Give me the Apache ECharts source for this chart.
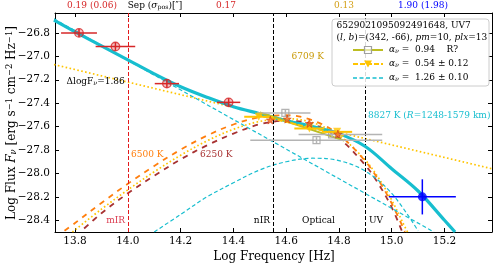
<!DOCTYPE html>
<html><head><meta charset="utf-8">
<script src="https://cdn.jsdelivr.net/npm/echarts@6/dist/echarts.min.js"></script>
<style>html,body{margin:0;padding:0;background:#fff}#c{width:498px;height:265px}</style>
</head><body><div id="c"></div><script>
// ---------- data ----------
const xTicks = [13.8, 14.0, 14.2, 14.4, 14.6, 14.8, 15.0, 15.2];
const yTicks = [-28.4, -28.2, -28.0, -27.8, -27.6, -27.4, -27.2, -27.0, -26.8];
const regionBounds = [14.0, 14.55, 14.9];

// red photometry (mIR/nIR)
const redFreq = [13.815, 13.953, 14.148, 14.382];
const redFlux = [-26.80, -26.916, -27.233, -27.393];
const redFreqErr = [0.068, 0.075, 0.046, 0.044];
const redFluxErr = [0.035, 0.035, 0.035, 0.035];
// blue UV point
const blueFreq = [15.116];
const blueFlux = [-28.20];
const blueFreqErr = [0.127];
const blueFluxErr = [0.15];
// gray squares
const grayFreq = [14.597, 14.715, 14.774];
const grayFlux = [-27.483, -27.716, -27.667];
const grayFreqLo = [14.490, 14.464, 14.647];
const grayFreqHi = [14.692, 14.964, 14.964];
const grayFluxErr = [0.025, 0.025, 0.025];
// gold triangles
const triFreq = [14.496, 14.688, 14.793];
const triFlux = [-27.516, -27.616, -27.645];
const triFreqErr = [0.055, 0.057, 0.057];
// orange stars
const starFreq = [14.540, 14.604, 14.688, 14.796];
const starFlux = [-27.544, -27.536, -27.573, -27.664];

// fit lines
const oliveFreq = [14.50, 14.82];
const oliveFlux = [-27.48, -27.72];
const goldFitFreq = [14.49, 14.82];
const goldFitFlux = [-27.50, -27.68];
const dottedPLFreq = [13.72, 15.38];
const dottedPLFlux = [-27.07, -27.96];
const cyanPLFreq = [13.72, 15.16];
const cyanPLFlux = [-26.68, -28.50];

// total model (thick cyan)
const totFreq = [13.72, 13.8, 13.9, 14.0, 14.1, 14.2, 14.3, 14.4, 14.5, 14.6, 14.7, 14.8, 14.9, 15.0, 15.1, 15.2, 15.24];
const totFlux = [-26.69, -26.79, -26.91, -27.03, -27.15, -27.26, -27.35, -27.43, -27.49, -27.55, -27.60, -27.66, -27.77, -27.96, -28.15, -28.40, -28.50];
// blackbody 8827 K (cyan dashed)
const bbCFreq = [14.10, 14.2, 14.3, 14.4, 14.5, 14.6, 14.7, 14.8, 14.9, 15.0, 15.1];
const bbCFlux = [-28.50, -28.35, -28.20, -28.08, -27.97, -27.90, -27.87, -27.89, -27.98, -28.17, -28.49];
// blackbody 6709 K (gold dotted)
const bbYFreq = [13.79, 13.9, 14.0, 14.1, 14.2, 14.3, 14.4, 14.5, 14.6, 14.7, 14.8, 14.9, 14.95, 15.0, 15.05, 15.06];
const bbYFlux = [-28.50, -28.305, -28.14, -27.986, -27.845, -27.722, -27.623, -27.556, -27.532, -27.566, -27.677, -27.887, -28.039, -28.228, -28.457, -28.50];
// blackbody 6500 K (orange dashed)
const bbOFreq = [13.76, 13.8, 13.9, 14.0, 14.1, 14.2, 14.3, 14.4, 14.5, 14.6, 14.7, 14.8, 14.9, 14.95, 15.0, 15.05];
const bbOFlux = [-28.49, -28.423, -28.252, -28.088, -27.936, -27.797, -27.677, -27.582, -27.520, -27.503, -27.546, -27.669, -27.896, -28.057, -28.256, -28.498];
// blackbody 6250 K (dark red dashed)
const bbRFreq = [13.82, 13.9, 14.0, 14.1, 14.2, 14.3, 14.4, 14.5, 14.6, 14.7, 14.8, 14.9, 14.95, 15.0, 15.04];
const bbRFlux = [-28.50, -28.34, -28.17, -28.02, -27.88, -27.76, -27.66, -27.58, -27.55, -27.58, -27.70, -27.93, -28.09, -28.29, -28.50];

// ---------- chart ----------
const FONT = 'DejaVu Serif';
const XMIN = 13.724, XMAX = 15.38, YMIN = -28.5, YMAX = -26.63;
const fmt = v => (Math.round(v * 10) / 10).toFixed(1).replace('-', '\u2212');
const zip = (a, b) => a.map((v, i) => [v, b[i]]);

function curve(fx, fy, color, width, type, z, smooth, offset) {
  return {type: 'line', data: zip(fx, fy), showSymbol: false, smooth: smooth ? 0.35 : false,
    lineStyle: {color, width, type, cap: 'butt', dashOffset: offset || 0}, z, silent: true, clip: true, animation: false};
}
function errBars(rows, color, width, z) {
  return {type: 'custom', z, silent: true, clip: true, animation: false,
    encode: {x: [0, 2, 3], y: [1, 4, 5]}, data: rows,
    renderItem: (params, api) => {
      const x = api.value(0), y = api.value(1);
      const a = api.coord([api.value(2), y]), b = api.coord([api.value(3), y]);
      const c = api.coord([x, api.value(4)]), d = api.coord([x, api.value(5)]);
      return {type: 'group', children: [
        {type: 'line', shape: {x1: a[0], y1: a[1], x2: b[0], y2: b[1]}, style: {stroke: color, lineWidth: width}},
        {type: 'line', shape: {x1: c[0], y1: c[1], x2: d[0], y2: d[1]}, style: {stroke: color, lineWidth: width}}
      ]};
    }};
}
const redRows = redFreq.map((f, i) => [f, redFlux[i], f - redFreqErr[i], f + redFreqErr[i], redFlux[i] - redFluxErr[i], redFlux[i] + redFluxErr[i]]);
const blueRows = blueFreq.map((f, i) => [f, blueFlux[i], f - blueFreqErr[i], f + blueFreqErr[i], blueFlux[i] - blueFluxErr[i], blueFlux[i] + blueFluxErr[i]]);
const grayRows = grayFreq.map((f, i) => [f, grayFlux[i], grayFreqLo[i], grayFreqHi[i], grayFlux[i] - grayFluxErr[i], grayFlux[i] + grayFluxErr[i]]);
const triRows = triFreq.map((f, i) => [f, triFlux[i], f - triFreqErr[i], f + triFreqErr[i], triFlux[i], triFlux[i]]);

const STAR = 'path://M50,0 L61,35 L98,35 L68,57 L79,91 L50,70 L21,91 L32,57 L2,35 L39,35 Z';
const CYAN = '#17becf', GOLD = '#ffc400', OLIVE = '#bcbd22', ORANGE = '#ff7f0e', DRED = '#a83232';

function axisX(pos, labels) {
  return {type: 'value', min: XMIN, max: XMAX, position: pos, axisLine: {onZero: false, lineStyle: {color: '#000', width: 1}},
    axisTick: {inside: true, length: 4, customValues: xTicks, lineStyle: {color: '#000'}},
    axisLabel: {show: labels, customValues: xTicks, formatter: fmt, fontFamily: FONT, fontSize: 10.5, color: '#000', margin: 4},
    splitLine: {show: false}};
}
function axisY(pos, labels) {
  return {type: 'value', min: YMIN, max: YMAX, position: pos, axisLine: {onZero: false, lineStyle: {color: '#000', width: 1}},
    axisTick: {inside: true, length: 4, customValues: yTicks, lineStyle: {color: '#000'}},
    axisLabel: {show: labels, customValues: yTicks, formatter: fmt, fontFamily: FONT, fontSize: 10.5, color: '#000', margin: 5},
    splitLine: {show: false}};
}

const rich = (size) => ({
  i: {fontFamily: FONT, fontSize: size, fontStyle: 'italic'},
  sub: {fontFamily: FONT, fontSize: size * 0.7, fontStyle: 'italic', verticalAlign: 'bottom'},
  subr: {fontFamily: FONT, fontSize: size * 0.7, verticalAlign: 'bottom'},
  sup: {fontFamily: FONT, fontSize: size * 0.7, verticalAlign: 'top'},
  n: {fontFamily: FONT, fontSize: size}
});
function txt(x, y, text, size, color, align, extra) {
  return Object.assign({type: 'text', x, y, silent: true, z: 50,
    style: {text, fill: color, fontFamily: FONT, fontSize: size, align: align || 'left', verticalAlign: 'middle', rich: rich(size)}}, extra || {});
}

const series = [
  {type: 'line', data: [], markLine: {symbol: 'none', silent: true, animation: false, label: {show: false},
    data: [
      {xAxis: regionBounds[0], lineStyle: {color: '#e31a1c', width: 1, type: [4, 2]}},
      {xAxis: regionBounds[1], lineStyle: {color: '#000', width: 1, type: [4, 2]}},
      {xAxis: regionBounds[2], lineStyle: {color: '#000', width: 1, type: [4, 2]}}
    ]}, z: 1},
  curve(dottedPLFreq, dottedPLFlux, GOLD, 1.7, [1.6, 2.4], 2, false),
  curve(bbYFreq, bbYFlux, GOLD, 1.7, [1.6, 2.4], 2, true),
  curve(bbOFreq, bbOFlux, ORANGE, 1.8, [5.5, 5.5], 3, true),
  curve(bbRFreq, bbRFlux, DRED, 1.8, [5.5, 5.5], 3, true, 5.5),
  curve(cyanPLFreq, cyanPLFlux, CYAN, 1.2, [4, 2.5], 4, false),
  curve(bbCFreq, bbCFlux, CYAN, 1.2, [4, 2.5], 4, true),
  curve(totFreq, totFlux, CYAN, 3.2, 'solid', 5, true),
  curve(oliveFreq, oliveFlux, OLIVE, 2, 'solid', 6, false),
  curve(goldFitFreq, goldFitFlux, GOLD, 1.8, [5, 2], 6, false),
  errBars(grayRows, '#b4b4b4', 1.5, 7),
  {type: 'scatter', data: zip(grayFreq, grayFlux), symbol: 'rect', symbolSize: 7, z: 8, silent: true, animation: false,
    itemStyle: {color: 'rgba(255,255,255,0)', borderColor: '#a0a0a0', borderWidth: 1.2}},
  errBars(triRows, GOLD, 2, 9),
  {type: 'scatter', data: zip(triFreq, triFlux), symbol: 'triangle', symbolRotate: 180, symbolSize: 8, z: 10, silent: true, animation: false,
    itemStyle: {color: GOLD}},
  {type: 'scatter', data: zip(starFreq, starFlux), symbol: STAR, symbolSize: 8, z: 11, silent: true, animation: false,
    itemStyle: {color: '#ff6a1a', borderColor: '#d0401c', borderWidth: 0.8}},
  errBars(redRows, '#d62728', 1.5, 12),
  {type: 'scatter', data: zip(redFreq, redFlux), symbol: 'circle', symbolSize: 8.5, z: 13, silent: true, animation: false,
    itemStyle: {color: 'rgba(214,39,40,0.35)', borderColor: '#d62728', borderWidth: 1.3}},
  errBars(blueRows, '#0000ff', 1.5, 12),
  {type: 'scatter', data: zip(blueFreq, blueFlux), symbol: 'circle', symbolSize: 9, z: 13, silent: true, animation: false,
    itemStyle: {color: '#0000ff'}}
];

const LX = 332, LY = 19;
const legend = [
  {type: 'rect', shape: {x: LX, y: LY, width: 157, height: 67, r: 3}, style: {fill: 'rgba(255,255,255,0.85)', stroke: '#cccccc', lineWidth: 1}, z: 40, silent: true},
  txt(336.5, 26, '6529021095092491648, UV7', 9, '#000'),
  txt(336.5, 37.5, '({i|l}, {i|b})=(342, -66), {i|pm}=10, {i|plx}=13', 9, '#000'),
  {type: 'line', shape: {x1: 353, y1: 50, x2: 383, y2: 50}, style: {stroke: OLIVE, lineWidth: 2}, z: 45, silent: true},
  {type: 'rect', shape: {x: 364.5, y: 46.5, width: 7, height: 7}, style: {fill: 'rgba(255,255,255,0.6)', stroke: '#a0a0a0', lineWidth: 1.2}, z: 46, silent: true},
  txt(389, 50, '{i|α}{sub|ν} =  0.94    R?', 9, '#000'),
  {type: 'line', shape: {x1: 353, y1: 64, x2: 383, y2: 64}, style: {stroke: GOLD, lineWidth: 1.8, lineDash: [5, 2]}, z: 45, silent: true},
  {type: 'polygon', shape: {points: [[364, 60.5], [372, 60.5], [368, 67.5]]}, style: {fill: GOLD}, z: 46, silent: true},
  txt(389, 64, '{i|α}{sub|ν} =  0.54 ± 0.12', 9, '#000'),
  {type: 'line', shape: {x1: 353, y1: 78, x2: 383, y2: 78}, style: {stroke: CYAN, lineWidth: 1.3, lineDash: [4, 2.5]}, z: 45, silent: true},
  txt(389, 78, '{i|α}{sub|ν} =  1.26 ± 0.10', 9, '#000')
];

const annotations = [
  txt(92, 6, '0.19 (0.06)', 9, '#d62728', 'center'),
  txt(155, 6, 'Sep ({i|σ}{subr|pos})[″]', 9, '#000', 'center'),
  txt(226, 6, '0.17', 9, '#d62728', 'center'),
  txt(344, 6, '0.13', 9, '#d4a017', 'center'),
  txt(423, 6, '1.90 (1.98)', 9, '#0000ff', 'center'),
  txt(66.5, 82, 'ΔlogF{sub|ν}=1.86', 9, '#000'),
  txt(291.5, 57, '6709 K', 9, '#c99a06'),
  txt(368, 115.5, '8827 K ({i|R}=1248-1579 km)', 9, CYAN),
  txt(131, 155, '6500 K', 9, ORANGE),
  txt(200, 155, '6250 K', 9, DRED),
  txt(125, 221, 'mIR', 9, '#dc3c50', 'right'),
  txt(270, 221, 'nIR', 9, '#000', 'right'),
  txt(318.5, 221, 'Optical', 9, '#000', 'center'),
  txt(369, 221, 'UV', 9, '#000'),
  txt(274, 256.5, 'Log Frequency [Hz]', 12, '#000', 'center'),
  txt(12, 123, 'Log Flux {i|F}{sub|ν} [erg s{sup|−1} cm{sup|−2} Hz{sup|−1}]', 12, '#000', 'center', {rotation: Math.PI / 2})
];

const chart = echarts.init(document.getElementById('c'), null, {renderer: 'canvas'});
chart.setOption({
  animation: false,
  backgroundColor: '#fff',
  grid: {left: 55, right: 6, top: 13, bottom: 33, show: false},
  xAxis: [axisX('bottom', true), axisX('top', false)],
  yAxis: [axisY('left', true), axisY('right', false)],
  series,
  graphic: legend.concat(annotations)
});
</script></body></html>
